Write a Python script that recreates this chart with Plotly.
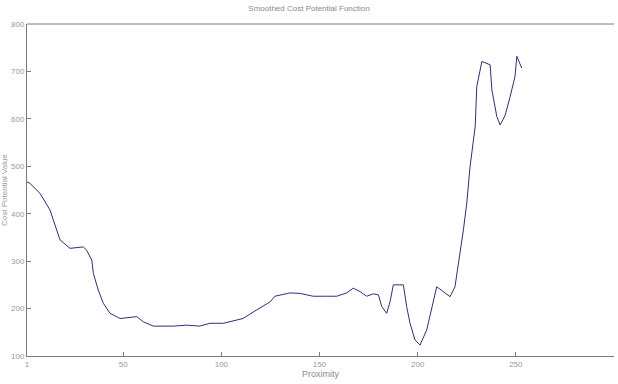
import plotly.graph_objects as go

# data
x_vals = [1, 2.5, 7.6, 12.7, 14.4, 17.8, 22.9, 29.7, 31.4, 34, 34.8, 37.3, 39.9, 43.3, 48.4,
          56.9, 60.3, 65.4, 75.6, 82.3, 89, 94.2, 101, 111, 117.9, 124.8, 127.3, 134.9,
          140, 146.8, 153.6, 158.7, 163.8, 167.2, 170.6, 174, 177.4, 180, 181.7, 184.2,
          185.9, 187.6, 192.7, 194.4, 196.1, 198.6, 201.2, 204.6, 209.7, 216.5, 219,
          221.6, 223.3, 225, 226.7, 229.3, 230.1, 232.7, 236.9, 237.8, 240.3, 242,
          244.6, 247.1, 249.6, 250.5, 253]
y_vals = [467, 464, 443, 408, 387, 345, 327, 330, 323, 302, 274, 239, 211, 190, 179,
          183, 172, 163, 163, 165, 163, 169, 169, 179, 197, 214, 226, 233,
          232, 226, 226, 226, 233, 243, 236, 226, 231, 229, 204, 190,
          214, 250, 250, 204, 169, 134, 123, 155, 246, 225, 246,
          317, 366, 422, 500, 584, 668, 721, 714, 661, 605, 587,
          608, 647, 690, 732, 707]

x_ticks = [1, 50, 100, 150, 200, 250, 300]
y_ticks = [100, 200, 300, 400, 500, 600, 700, 800]

title_text = "Smoothed Cost Potential Function"
x_label = "Proximity"
y_label = "Cost Potential Value"

fig = go.Figure()
fig.add_trace(go.Scatter(x=x_vals, y=y_vals, mode="lines",
                         line=dict(color="#2b3170", width=1), showlegend=False))

axis_common = dict(showgrid=False, zeroline=False, showline=True, linecolor="#7a7a7a",
                   linewidth=1, ticks="inside", ticklen=4, tickcolor="#7a7a7a",
                   tickfont=dict(family="Liberation Sans", size=8, color="#9a9a9a"),
                   mirror=False)

fig.update_layout(
    width=618, height=384,
    margin=dict(l=27, r=4, t=24, b=28),
    paper_bgcolor="white", plot_bgcolor="white",
    title=dict(text=title_text, x=0.5, xanchor="center", y=0.985, yanchor="top",
               font=dict(family="Liberation Sans", size=8, color="#8a8a8a")),
    xaxis=dict(range=[1, 300], tickvals=x_ticks,
               title=dict(text=x_label, standoff=2,
                          font=dict(family="Liberation Sans", size=9, color="#8a8a8a")),
               **axis_common),
    yaxis=dict(range=[100, 800], tickvals=y_ticks,
               title=dict(text=y_label, standoff=2,
                          font=dict(family="Liberation Sans", size=8, color="#9a9a9a")),
               **axis_common),
)
# top border line like the reference box
fig.add_shape(type="line", xref="paper", yref="paper", x0=0, x1=1, y0=1, y1=1,
              line=dict(color="#7a7a7a", width=1))

fig.write_html("out.html")
